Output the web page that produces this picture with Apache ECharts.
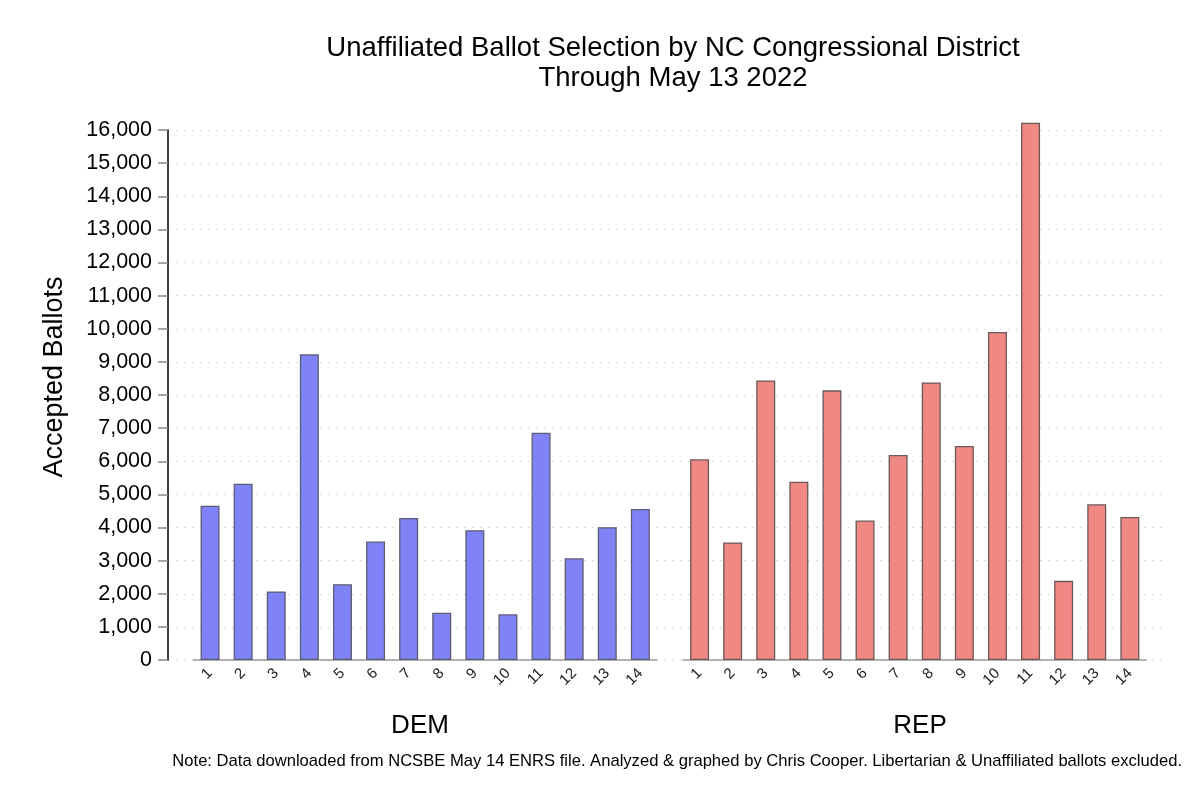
<!DOCTYPE html>
<html>
<head>
<meta charset="utf-8">
<script src="https://cdn.jsdelivr.net/npm/echarts@6/dist/echarts.min.js"></script>
<style>html,body{margin:0;padding:0;background:#fff}#c{width:1200px;height:800px}</style>
</head>
<body>
<div id="c"></div>
<script>
const districts = ['1','2','3','4','5','6','7','8','9','10','11','12','13','14'];
const demValues = [4660, 5320, 2070, 9230, 2290, 3580, 4290, 1430, 3920, 1380, 6860, 3070, 4010, 4560];
const repValues = [6060, 3550, 8440, 5380, 8140, 4210, 6190, 8380, 6460, 9900, 16220, 2390, 4700, 4320];
const yTicks = {min: 0, max: 16000, interval: 1000};
const groupNames = ['DEM', 'REP'];
const titleText = 'Unaffiliated Ballot Selection by NC Congressional District\nThrough May 13 2022';
const yName = 'Accepted Ballots';
const note = 'Note: Data downloaded from NCSBE May 14 ENRS file. Analyzed & graphed by Chris Cooper. Libertarian & Unaffiliated ballots excluded.';

const FONT = '"Liberation Sans", Arial, Helvetica, sans-serif';
const chart = echarts.init(document.getElementById('c'));
const TOP = 130, BOTTOM = 140;
const band = 33.1;
const g1Left = 193.5, g2Left = 683;
const gW = band * 14;

function fmt(v){ return v.toLocaleString('en-US'); }

const catAxis = (gi) => ({
  type: 'category', gridIndex: gi, data: districts,
  axisLine: {show: true, lineStyle: {color: '#999', width: 1.5}},
  axisTick: {show: false},
  axisLabel: {rotate: 45, fontSize: 15, color: '#222', fontFamily: FONT, margin: 11, interval: 0}
});
const hiddenY = (gi) => ({
  type: 'value', gridIndex: gi, min: yTicks.min, max: yTicks.max, interval: yTicks.interval,
  show: false, splitLine: {show: false}
});

chart.setOption({
  backgroundColor: '#fff',
  animation: false,
  textStyle: {fontFamily: FONT},
  title: [
    {text: titleText, left: 668, top: 28, textAlign: 'center',
     textStyle: {fontSize: 27.5, fontWeight: 'normal', color: '#000', lineHeight: 30, fontFamily: FONT}},
    {text: groupNames[0], left: 415, top: 708, textAlign: 'center',
     textStyle: {fontSize: 26, fontWeight: 'normal', color: '#000', fontFamily: FONT}},
    {text: groupNames[1], left: 915, top: 708, textAlign: 'center',
     textStyle: {fontSize: 26, fontWeight: 'normal', color: '#000', fontFamily: FONT}},
    {text: note, right: 13, top: 748,
     textStyle: {fontSize: 16.6, fontWeight: 'normal', color: '#000', fontFamily: FONT}}
  ],
  graphic: [
    {type: 'text', x: 55, y: 377, rotation: Math.PI / 2,
     style: {text: yName, fontSize: 27, fill: '#000', fontFamily: FONT, align: 'center', verticalAlign: 'middle'}}
  ],
  grid: [
    {left: 168, right: 32, top: TOP, bottom: BOTTOM},
    {left: g1Left, width: gW, top: TOP, bottom: BOTTOM},
    {left: g2Left, width: gW, top: TOP, bottom: BOTTOM}
  ],
  xAxis: [
    {type: 'value', gridIndex: 0, show: false, min: 0, max: 1, splitLine: {show: false}},
    catAxis(1),
    catAxis(2)
  ],
  yAxis: [
    {type: 'value', gridIndex: 0, min: yTicks.min, max: yTicks.max, interval: yTicks.interval,
     axisLine: {show: true, lineStyle: {color: '#000', width: 1.5}},
     axisTick: {show: true, length: 10, lineStyle: {color: '#888', width: 1.5}},
     axisLabel: {fontSize: 21.5, color: '#000', margin: 16, fontFamily: FONT, formatter: fmt},
     splitLine: {show: true, lineStyle: {color: '#c8c8c8', width: 1.2, type: [1.2, 6.8]}}},
    hiddenY(1),
    hiddenY(2)
  ],
  series: [
    {name: groupNames[0], type: 'bar', xAxisIndex: 1, yAxisIndex: 1, data: demValues, barWidth: 19, clip: false,
     itemStyle: {color: '#8082f8', borderColor: '#5c5c70', borderWidth: 1.3}},
    {name: groupNames[1], type: 'bar', xAxisIndex: 2, yAxisIndex: 2, data: repValues, barWidth: 19, clip: false,
     itemStyle: {color: '#f08884', borderColor: '#6b5858', borderWidth: 1.3}}
  ]
});
</script>
</body>
</html>
